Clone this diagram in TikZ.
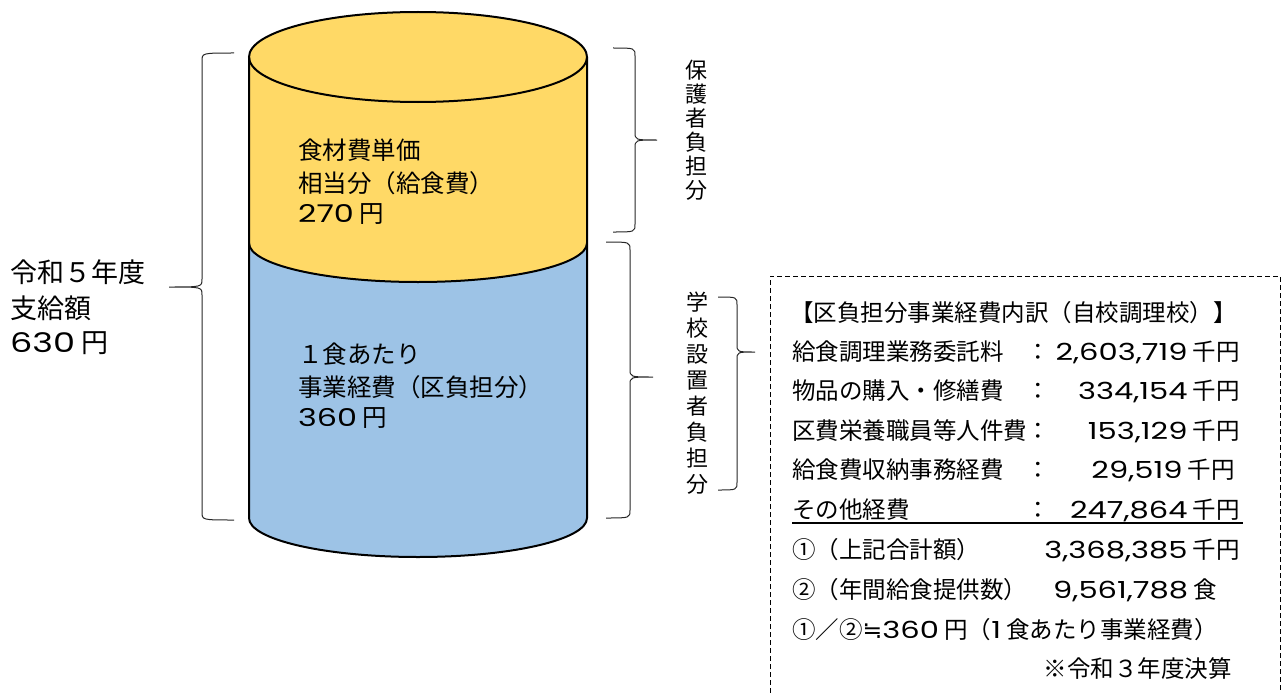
\documentclass[tikz,border=0pt]{standalone}
\usepackage{fontspec}
\setmainfont{Noto Sans CJK JP}
\newfontfamily\dgf[FakeStretch=1.3]{Poppins}
\newfontfamily\symf{DejaVu Sans}
\definecolor{cylY}{RGB}{255,217,102}
\definecolor{cylB}{RGB}{157,195,230}
\newcommand\mybrace[6]{% xe xl xt yt ym yb (y downward)
  \draw[bracestyle] (#1,-#4) .. controls (#2,-#4) .. (#2,-#4-8) -- (#2,-#5+8)
    .. controls (#2,-#5) .. (#3,-#5) .. controls (#2,-#5) .. (#2,-#5-8)
    -- (#2,-#6+8) .. controls (#2,-#6) .. (#1,-#6);}
\tikzset{
  bracestyle/.style={line width=1pt, black!85},
  cyltxt/.style={inner sep=0pt, anchor=west, font=\fontsize{24.5}{28}\selectfont},
  lefttxt/.style={inner sep=0pt, anchor=west, font=\fontsize{27}{30}\selectfont},
  vtxt/.style={inner sep=0pt, align=center, font=\fontsize{22}{24}\selectfont},
  vtxtb/.style={inner sep=0pt, align=center, font=\fontsize{22}{26}\selectfont},
  boxtxt/.style={inner sep=0pt, anchor=west, font=\fontsize{23.5}{28}\selectfont},
  boxnum/.style={inner sep=0pt, anchor=east, font=\fontsize{23.5}{28}\selectfont},
  boxcol/.style={inner sep=0pt, anchor=center, font=\fontsize{23.5}{28}\selectfont},
}
\newcommand\dg[1]{{\dgf #1}}
\begin{document}
\begin{tikzpicture}[x=1pt,y=1pt]
\useasboundingbox (0,0) rectangle (1288,-693);
% cylinder
\fill[cylB] (249,-243) -- (249,-518) arc[start angle=180,end angle=360,x radius=169pt,y radius=39pt]
  -- (587,-243) arc[start angle=0,end angle=-180,x radius=169pt,y radius=39pt] -- cycle;
\fill[cylY] (249,-57) -- (249,-243) arc[start angle=180,end angle=360,x radius=169pt,y radius=39pt]
  -- (587,-57) arc[start angle=0,end angle=180,x radius=169pt,y radius=45pt] -- cycle;
\draw[line width=2pt] (418,-57) ellipse[x radius=169pt,y radius=45pt];
\draw[line width=2pt] (249,-243) arc[start angle=180,end angle=360,x radius=169pt,y radius=39pt];
\draw[line width=2pt,line join=round] (249,-57) -- (249,-518) arc[start angle=180,end angle=360,x radius=169pt,y radius=39pt] -- (587,-57);
% cylinder texts
\node[cyltxt] (y1) at (298,-150) {食材費単価};
\node[cyltxt] (y2) at (298,-183) {相当分（給食費）};
\node[cyltxt] (y3) at (298,-214) {\dg{270} 円};
\node[cyltxt] (b1) at (298,-354) {１食あたり};
\node[cyltxt] (b2) at (298,-387) {事業経費（区負担分）};
\node[cyltxt] (b3) at (298,-418) {\dg{360} 円};
% left
\node[lefttxt] (l1) at (10,-272) {令和５年度};
\node[lefttxt] (l2) at (10,-308) {支給額};
\node[lefttxt] (l3) at (10,-343) {\dg{630} 円};
% braces
\mybrace{234}{202}{169}{53}{287}{520}
\mybrace{613}{635}{657}{48}{140}{232}
\mybrace{606}{630}{653}{242}{377}{518}
\mybrace{718}{737}{755}{297}{352}{490}
% vertical texts
\node[vtxt] (v1) at (696,-130) {保\\護\\者\\負\\担\\分};
\node[vtxtb] (v2) at (697,-393) {学\\校\\設\\置\\者\\負\\担\\分};
% dashed box
\draw[black, line width=1pt, dash pattern=on 5pt off 3pt] (770,-693) -- (770,-276) -- (1280,-276) -- (1280,-693);
\node[boxtxt] (h) at (790,-313) {【区負担分事業経費内訳（自校調理校）】};
\node[boxtxt] (r1) at (792,-352) {給食調理業務委託料};
\node[boxcol] (c1) at (1038,-352) {：};
\node[boxnum] (n1) at (1240,-352) {\dg{2,603,719} 千円};
\node[boxtxt] (r2) at (792,-391) {物品の購入・修繕費};
\node[boxcol] (c2) at (1038,-391) {：};
\node[boxnum] (n2) at (1240,-391) {\dg{334,154} 千円};
\node[boxtxt] (r3) at (792,-431) {区費栄養職員等人件費};
\node[boxcol] (c3) at (1038,-431) {：};
\node[boxnum] (n3) at (1240,-431) {\dg{153,129} 千円};
\node[boxtxt] (r4) at (792,-470) {給食費収納事務経費};
\node[boxcol] (c4) at (1038,-470) {：};
\node[boxnum] (n4) at (1235,-470) {\dg{29,519} 千円};
\node[boxtxt] (r5) at (792,-510) {その他経費};
\node[boxcol] (c5) at (1038,-510) {：};
\node[boxnum] (n5) at (1240,-510) {\dg{247,864} 千円};
\draw[line width=1.6pt] (792,-523) -- (1243,-523);
\node[boxtxt] (r6) at (792,-550) {①（上記合計額）};
\node[boxnum] (n6) at (1240,-550) {\dg{3,368,385} 千円};
\node[boxtxt] (r7) at (792,-590) {②（年間給食提供数）};
\node[boxtxt] (n7) at (1053,-590) {\dg{9,561,788} 食};
\node[boxtxt] (r8) at (792,-630) {①／②{\symf ≒}\dg{360} 円（\dg{1} 食あたり事業経費）};
\node[boxnum] (r9) at (1232,-669) {※令和３年度決算};
\end{tikzpicture}
\end{document}
